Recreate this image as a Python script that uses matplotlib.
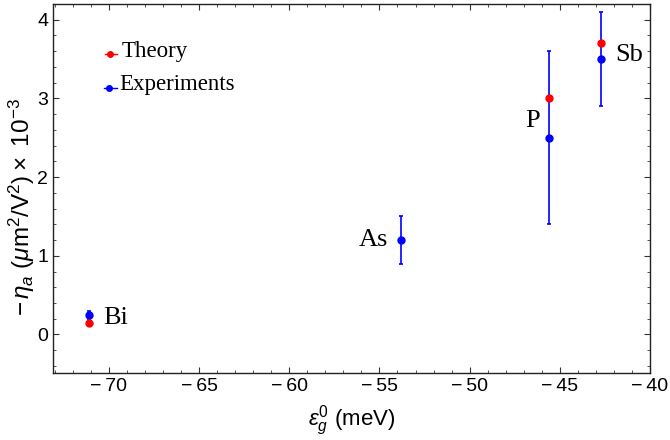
import matplotlib
matplotlib.use("Agg")
import matplotlib.pyplot as plt
from matplotlib.ticker import MultipleLocator, FuncFormatter

# Data
elements = ["Bi", "As", "P", "Sb"]
theory_x = [-71.1, -45.6, -42.7]
theory_y = [0.15, 3.0, 3.7]
exp_x = [-71.1, -53.8, -45.6, -42.7]
exp_y = [0.25, 1.2, 2.5, 3.5]
exp_err_low = [0.05, 0.3, 1.1, 0.6]
exp_err_high = [0.05, 0.3, 1.1, 0.6]
label_x = [-70.33, -54.5, -46.1, -41.9]
label_y = [0.13, 1.13, 2.64, 3.48]
label_ha = ["left", "right", "right", "left"]

plt.rcParams['mathtext.fontset'] = 'custom'
plt.rcParams['mathtext.rm'] = 'Liberation Sans'
plt.rcParams['mathtext.it'] = 'Liberation Sans:italic'
plt.rcParams['mathtext.sf'] = 'Liberation Sans'

fig = plt.figure(figsize=(6.7, 4.4), dpi=100)
ax = fig.add_axes([53/670, 67/440, (650-53)/670, (373-4)/440])

ax.errorbar(exp_x, exp_y, yerr=[exp_err_low, exp_err_high], fmt='o', color='#0000ff',
            ms=5, elinewidth=1.2, capsize=1.6, capthick=1.2, zorder=2)
ax.plot(theory_x, theory_y, 'o', color='#ff0000', ms=5, zorder=3)

for name, x, y, ha in zip(elements, label_x, label_y, label_ha):
    ax.text(x, y, name, ha=ha, va='baseline', family='Liberation Serif', fontsize=19)

# legend-like annotations
ax.plot([-70.2, -69.55], [3.57, 3.57], '-', color='#ff0000', lw=1)
ax.plot([-69.95], [3.57], 'o', color='#ff0000', ms=4)
ax.text(-69.3, 3.53, "Theory", ha='left', va='baseline', family='Liberation Serif', fontsize=16.5)
ax.plot([-70.25, -69.55], [3.13, 3.13], '-', color='#0000ff', lw=1)
ax.plot([-70.0], [3.13], 'o', color='#0000ff', ms=4)
ax.text(-69.4, 3.11, "Experiments", ha='left', va='baseline', family='Liberation Serif', fontsize=16.5)

ax.set_xlim(-73.1, -40)
ax.set_ylim(-0.49, 4.2)
ax.xaxis.set_major_locator(MultipleLocator(5))
ax.xaxis.set_minor_locator(MultipleLocator(1))
ax.yaxis.set_major_locator(MultipleLocator(1))
ax.yaxis.set_minor_locator(MultipleLocator(0.2))

def fmt(v, pos):
    n = int(round(v))
    return ("\u2212\u2009%d" % -n) if n < 0 else "%d" % n

ax.xaxis.set_major_formatter(FuncFormatter(fmt))
ax.yaxis.set_major_formatter(FuncFormatter(fmt))
ax.tick_params(which='both', direction='in', top=True, right=True, labelsize=14,
               colors='#333333', labelcolor='black')
ax.tick_params(which='major', length=4, width=0.8)
ax.tick_params(which='minor', length=2, width=0.6)
for lab in ax.get_xticklabels() + ax.get_yticklabels():
    lab.set_family('Liberation Sans')
for s in ax.spines.values():
    s.set_linewidth(1.0)
    s.set_color('#222222')

ax.set_xlabel(r"$\epsilon_g^0$ (meV)", fontsize=16, family='Liberation Sans', labelpad=6)
ax.set_ylabel(r"$-\,\eta_a\ (\mu\mathrm{m}^2/\mathrm{V}^2)\times\ 10^{-3}$", fontsize=17.5,
              family='Liberation Sans')
ax.yaxis.set_label_coords(-0.026, 0.45)

fig.savefig("out.png", dpi=100)
